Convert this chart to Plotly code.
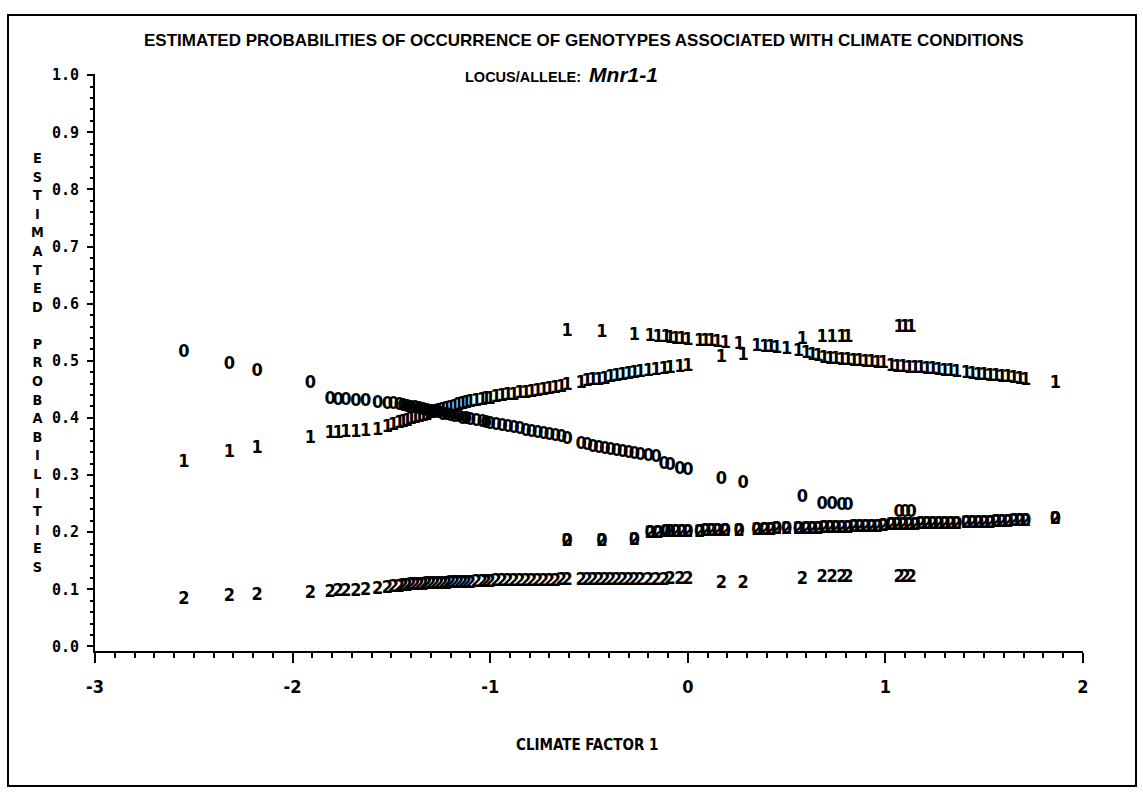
import plotly.graph_objects as go

# ---------------- data ----------------
# group A of populations
x_a = [-2.55, -2.32, -2.18, -1.91, -1.81, -1.77, -1.73, -1.68, -1.63, -1.57, -1.52, -1.49,
       -1.46, -1.44, -1.42, -1.40, -1.38, -1.36, -1.34, -1.32, -1.30, -1.28, -1.26, -1.24,
       -1.22, -1.20, -1.18, -1.16, -1.14, -1.12, -1.10, -1.07, -1.04, -1.02, -1.00, -0.97,
       -0.94, -0.91, -0.88, -0.85, -0.82, -0.79, -0.76, -0.73, -0.70, -0.67, -0.64, -0.61,
       -0.54, -0.51, -0.48, -0.45, -0.42, -0.39, -0.36, -0.33, -0.30, -0.27, -0.24, -0.20,
       -0.16, -0.12, -0.09, -0.04, 0.00, 0.17, 0.28, 0.58, 0.68, 0.73, 0.78, 0.81,
       1.07, 1.10, 1.13]
p0_a = [0.514, 0.493, 0.481, 0.460, 0.432, 0.431, 0.430, 0.429, 0.428, 0.426, 0.424, 0.423,
        0.421, 0.420, 0.419, 0.417, 0.416, 0.414, 0.413, 0.411, 0.410, 0.408, 0.407, 0.405,
        0.404, 0.402, 0.401, 0.400, 0.398, 0.397, 0.396, 0.394, 0.392, 0.390, 0.389, 0.387,
        0.385, 0.383, 0.381, 0.379, 0.377, 0.375, 0.373, 0.371, 0.369, 0.367, 0.365, 0.362,
        0.353, 0.351, 0.349, 0.347, 0.345, 0.343, 0.341, 0.339, 0.337, 0.336, 0.334, 0.332,
        0.330, 0.318, 0.316, 0.310, 0.308, 0.292, 0.286, 0.260, 0.248, 0.248, 0.246, 0.246,
        0.234, 0.234, 0.234]
p1_a = [0.322, 0.339, 0.346, 0.364, 0.372, 0.373, 0.374, 0.375, 0.376, 0.378, 0.383, 0.386,
        0.390, 0.392, 0.394, 0.397, 0.399, 0.401, 0.403, 0.405, 0.407, 0.409, 0.411, 0.413,
        0.415, 0.417, 0.419, 0.421, 0.423, 0.425, 0.427, 0.429, 0.431, 0.432, 0.433, 0.435,
        0.437, 0.439, 0.440, 0.442, 0.443, 0.445, 0.447, 0.448, 0.450, 0.452, 0.454, 0.456,
        0.461, 0.463, 0.465, 0.466, 0.468, 0.470, 0.472, 0.474, 0.476, 0.478, 0.479, 0.481,
        0.483, 0.485, 0.486, 0.488, 0.490, 0.505, 0.510, 0.537, 0.540, 0.540, 0.541, 0.541,
        0.558, 0.558, 0.558]
p2_a = [0.082, 0.087, 0.089, 0.093, 0.095, 0.096, 0.096, 0.097, 0.098, 0.100, 0.102, 0.103,
        0.104, 0.105, 0.105, 0.106, 0.106, 0.107, 0.107, 0.108, 0.108, 0.108, 0.109, 0.109,
        0.109, 0.110, 0.110, 0.110, 0.111, 0.111, 0.111, 0.112, 0.112, 0.112, 0.112, 0.113,
        0.113, 0.113, 0.113, 0.113, 0.114, 0.114, 0.114, 0.114, 0.114, 0.114, 0.115, 0.115,
        0.115, 0.115, 0.115, 0.115, 0.116, 0.116, 0.116, 0.116, 0.116, 0.116, 0.116, 0.116,
        0.116, 0.116, 0.117, 0.117, 0.117, 0.111, 0.111, 0.117, 0.120, 0.120, 0.120, 0.120,
        0.120, 0.120, 0.120]

# group B of populations
x_b = [-0.61, -0.435, -0.27, -0.19, -0.15, -0.11, -0.09, -0.06, -0.03, 0.00, 0.06, 0.09,
       0.12, 0.15, 0.19, 0.26, 0.35, 0.39, 0.42, 0.45, 0.50, 0.56, 0.60, 0.63, 0.66, 0.69,
       0.72, 0.75, 0.78, 0.81, 0.84, 0.87, 0.90, 0.93, 0.96, 0.99, 1.03, 1.06, 1.09, 1.12,
       1.15, 1.18, 1.21, 1.24, 1.27, 1.30, 1.33, 1.36, 1.41, 1.44, 1.47, 1.50, 1.53, 1.56,
       1.59, 1.62, 1.65, 1.68, 1.71, 1.86]
p1_b = [0.551, 0.549, 0.545, 0.542, 0.541, 0.540, 0.539, 0.538, 0.537, 0.536, 0.534, 0.533,
        0.533, 0.532, 0.530, 0.528, 0.525, 0.524, 0.523, 0.522, 0.520, 0.516, 0.512, 0.510,
        0.507, 0.504, 0.503, 0.502, 0.501, 0.500, 0.499, 0.498, 0.497, 0.497, 0.496, 0.495,
        0.490, 0.489, 0.488, 0.487, 0.486, 0.486, 0.485, 0.484, 0.483, 0.482, 0.481, 0.480,
        0.477, 0.476, 0.475, 0.474, 0.473, 0.472, 0.471, 0.470, 0.469, 0.468, 0.465, 0.461]
p0_b = [0.184, 0.184, 0.186, 0.198, 0.198, 0.199, 0.199, 0.199, 0.200, 0.200, 0.200, 0.201,
        0.201, 0.201, 0.202, 0.202, 0.203, 0.203, 0.203, 0.204, 0.204, 0.204, 0.205, 0.205,
        0.205, 0.206, 0.206, 0.207, 0.207, 0.207, 0.208, 0.208, 0.209, 0.209, 0.209, 0.210,
        0.211, 0.211, 0.212, 0.212, 0.212, 0.213, 0.213, 0.213, 0.214, 0.214, 0.214, 0.214,
        0.215, 0.215, 0.216, 0.216, 0.216, 0.217, 0.217, 0.217, 0.218, 0.218, 0.219, 0.222]
p2_b = [0.184, 0.184, 0.186, 0.198, 0.198, 0.199, 0.199, 0.199, 0.200, 0.200, 0.200, 0.201,
        0.201, 0.201, 0.202, 0.202, 0.203, 0.203, 0.203, 0.204, 0.204, 0.204, 0.205, 0.205,
        0.205, 0.206, 0.206, 0.207, 0.207, 0.207, 0.208, 0.208, 0.209, 0.209, 0.209, 0.210,
        0.211, 0.211, 0.212, 0.212, 0.212, 0.213, 0.213, 0.213, 0.214, 0.214, 0.214, 0.214,
        0.215, 0.215, 0.216, 0.216, 0.216, 0.217, 0.217, 0.217, 0.218, 0.218, 0.219, 0.222]

genotypes = ["0", "1", "2"]
y_ticks = [0.0, 0.1, 0.2, 0.3, 0.4, 0.5, 0.6, 0.7, 0.8, 0.9, 1.0]
y_tick_labels = ["0.0", "0.1", "0.2", "0.3", "0.4", "0.5", "0.6", "0.7", "0.8", "0.9", "1.0"]
x_ticks = [-3, -2, -1, 0, 1, 2]
x_tick_labels = ["-3", "-2", "-1", "0", "1", "2"]

title_text = "ESTIMATED PROBABILITIES OF OCCURRENCE OF GENOTYPES ASSOCIATED WITH CLIMATE CONDITIONS"
locus_label = "LOCUS/ALLELE:"
locus_name = "Mnr1-1"
y_title = "ESTIMATED PROBABILITIES"
x_title = "CLIMATE FACTOR 1"

# ---------------- figure ----------------
W, H = 1143, 793
ML, MR, MT, MB = 95, 60, 74, 142
PW, PH = W - ML - MR, H - MT - MB

NARROW = "Liberation Sans Narrow, DejaVu Sans Condensed, Arial Narrow, sans-serif"
MONO = "DejaVu Sans Mono, Liberation Mono, monospace"
SANS = "Liberation Sans, Arial, Helvetica, sans-serif"

series = {
    "0": (x_a + x_b, p0_a + p0_b),
    "1": (x_a + x_b, p1_a + p1_b),
    "2": (x_a + x_b, p2_a + p2_b),
}

fig = go.Figure()
for g in genotypes:
    xs, ys = series[g]
    fig.add_trace(go.Scatter(
        x=xs, y=ys, mode="text", text=[g] * len(xs),
        textposition="middle center",
        textfont=dict(family=NARROW, size=18, color="black", weight="bold"),
        name=g, showlegend=False, hoverinfo="x+y+name",
    ))

def px_to_paper_x(px):
    return (px - ML) / PW

def px_to_paper_y(py):
    return 1 - (py - MT) / PH

annotations = [
    dict(text="<b>" + title_text + "</b>", x=px_to_paper_x(584), y=px_to_paper_y(40),
         xref="paper", yref="paper", showarrow=False, xanchor="center", yanchor="middle",
         font=dict(family=SANS, size=17, color="black")),
    dict(text="<b>" + locus_label + "</b>  <b><i><span style='font-size:21px'>" + locus_name + "</span></i></b>",
         x=px_to_paper_x(561), y=px_to_paper_y(75),
         xref="paper", yref="paper", showarrow=False, xanchor="center", yanchor="middle",
         font=dict(family=SANS, size=14.5, color="black")),
    dict(text="<br>".join(list(y_title)), x=px_to_paper_x(37), y=px_to_paper_y(362),
         xref="paper", yref="paper", showarrow=False, xanchor="center", yanchor="middle",
         font=dict(family=NARROW, size=14.3, color="black", weight="bold")),
    dict(text="<b>" + x_title + "</b>", x=px_to_paper_x(587), y=px_to_paper_y(745),
         xref="paper", yref="paper", showarrow=False, xanchor="center", yanchor="middle",
         font=dict(family=NARROW, size=15, color="black")),
]

fig.update_layout(
    width=W, height=H,
    margin=dict(l=ML, r=MR, t=MT, b=MB, pad=0),
    paper_bgcolor="white", plot_bgcolor="white",
    annotations=annotations,
    shapes=[dict(type="rect", xref="paper", yref="paper",
                 x0=px_to_paper_x(8), x1=px_to_paper_x(1136),
                 y0=px_to_paper_y(786), y1=px_to_paper_y(15),
                 line=dict(color="black", width=2), fillcolor="rgba(0,0,0,0)", layer="below")],
    xaxis=dict(range=[-3.0, 2.0], tickmode="array", tickvals=x_ticks, ticktext=x_tick_labels,
               showgrid=False, zeroline=False, showline=True, linecolor="black", linewidth=2,
               ticks="outside", ticklen=10, tickwidth=2, tickcolor="black", ticklabelstandoff=8,
               tickfont=dict(family=NARROW, size=18, color="black", weight="bold"),
               minor=dict(dtick=0.1, tick0=0, ticks="outside", ticklen=5, tickwidth=1.5,
                          tickcolor="black", showgrid=False)),
    yaxis=dict(range=[-0.008, 1.002], tickmode="array", tickvals=y_ticks, ticktext=y_tick_labels,
               showgrid=False, zeroline=False, showline=True, linecolor="black", linewidth=2,
               ticks="outside", ticklen=6, tickwidth=2, tickcolor="black", ticklabelstandoff=5,
               tickfont=dict(family=MONO, size=15, color="black", weight="bold"),
               minor=dict(dtick=0.02, tick0=0, ticks="outside", ticklen=3, tickwidth=1.5,
                          tickcolor="black", showgrid=False)),
)

fig.write_html("out.html", config={"displayModeBar": False},
               post_script="document.body.style.margin='0px';")
